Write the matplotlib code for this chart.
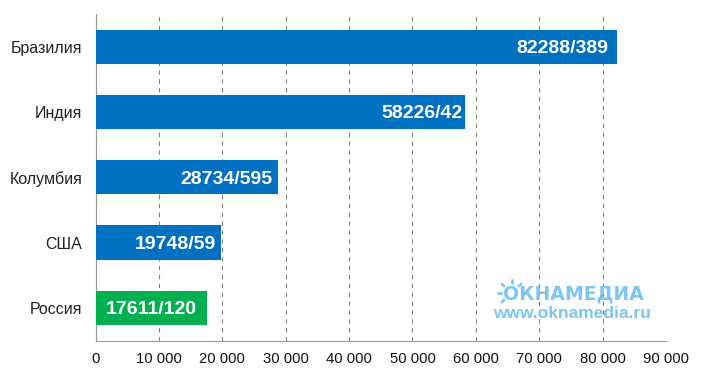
import matplotlib
matplotlib.use('Agg')
import matplotlib.pyplot as plt
from matplotlib.lines import Line2D
from matplotlib.patches import Arc

countries = ['Бразилия', 'Индия', 'Колумбия', 'США', 'Россия']
values = [82288, 58226, 28734, 19748, 17611]
labels = ['82288/389', '58226/42', '28734/595', '19748/59', '17611/120']
colors = ['#0070c0', '#0070c0', '#0070c0', '#0070c0', '#00b050']
xticks = list(range(0, 90001, 10000))
xticklabels = ['0', '10 000', '20 000', '30 000', '40 000', '50 000', '60 000', '70 000', '80 000', '90 000']

# how far each label sits from the bar end, px
label_gaps = [9, 2, 5, 5, 10]

plt.rcParams['font.family'] = ['Liberation Sans', 'DejaVu Sans']

W, H = 703, 374
fig = plt.figure(figsize=(W / 100, H / 100), dpi=100)
ax = fig.add_axes([95.5 / W, 1 - 340.5 / H, (666 - 95.5) / W, (340.5 - 14) / H])

y = list(range(len(countries)))
ax.barh(y, values, height=0.525, color=colors, zorder=3)
for yi, v, lab, gap in zip(y, values, labels, label_gaps):
    ax.annotate(lab, xy=(v, yi), xytext=(-gap * 0.72, -1.4), textcoords='offset points',
                color='white', fontsize=14, fontweight='bold',
                ha='right', va='center', zorder=4)

ax.set_xlim(0, 90000)
ax.set_ylim(4.5, -0.5)
ax.set_yticks(y)
ax.set_yticklabels(countries, fontsize=11.5, color='#222222')
ax.set_xticks(xticks)
ax.set_xticklabels(xticklabels, fontsize=10.7, color='#111111')
ax.tick_params(axis='y', length=0, pad=9.5)
ax.tick_params(axis='x', length=0, pad=8)
ax.grid(axis='x', color='#808080', linestyle=(0, (4, 4)), linewidth=0.8, zorder=0)
for s in ['top', 'right']:
    ax.spines[s].set_visible(False)
for s in ['left', 'bottom']:
    ax.spines[s].set_color('#999999')

# logo over the plot
logo = '#7cc6f1'
fig.text(573.5 / W, 1 - 294 / H, 'ОКНАМЕДИА', color=logo, fontsize=13.6, fontweight='bold',
         family=['DejaVu Sans'], ha='center', va='center', zorder=6)
fig.text(571.5 / W, 1 - 313 / H, 'www.oknamedia.ru', color=logo, fontsize=12.5, fontweight='bold',
         ha='center', va='center', zorder=6)

# sun rays around the О
cx, cy = 512, 293
for x0, y0, x1, y1 in [(-14, 0, -11, 0), (-10, -9, -8, -7), (0, -13, 0, -10),
                       (-10, 9, -8, 7), (9, -9, 7, -7)]:
    fig.add_artist(Line2D([(cx + x0) / W, (cx + x1) / W], [1 - (cy + y0) / H, 1 - (cy + y1) / H],
                          color=logo, linewidth=1.8, zorder=6))

fig.savefig('out.png', dpi=100)
